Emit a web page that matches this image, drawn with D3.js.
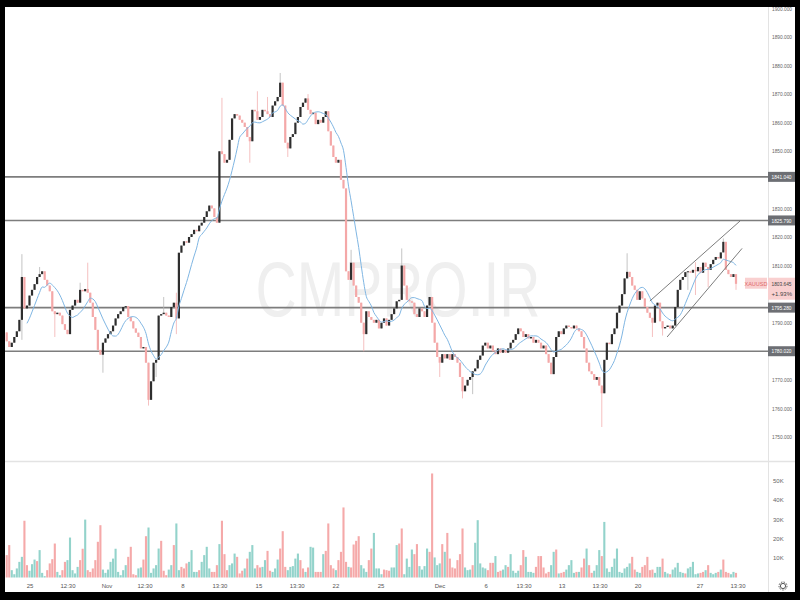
<!DOCTYPE html>
<html><head><meta charset="utf-8">
<script src="https://cdn.jsdelivr.net/npm/d3@7/dist/d3.min.js"></script>
<style>html,body{margin:0;padding:0;background:#000;overflow:hidden}svg{display:block}</style>
</head><body>
<svg id="c" width="800" height="600"></svg>
<script>
// ---------- data ----------
const symbol = "XAUUSD";
const lastPrice = "1803.645";
const changePct = "+1.93%";
const firstOpen = 1786.6;
const closes = [1783.5,1781.5,1783,1785,1787,1791,1806,1795,1796,1799.5,
1801.5,1803.5,1806,1807,1808,1805,1803,1801,1794,1793,
1793.5,1792.5,1789.5,1787.5,1786,1794.5,1796,1798,1797,1801.5,
1801,1801.8,1800.5,1797,1792,1787.5,1780.5,1778.8,1783,1784.5,
1786,1787,1789,1791.5,1793,1794,1795.5,1795.8,1792,1790.5,
1788,1786.5,1785,1781,1781.5,1776,1763,1769.5,1776,1777,
1792.5,1793,1793.5,1792.5,1792,1795.5,1797,1791.5,1814.5,1817,
1818.5,1818,1820,1821,1822.5,1822,1824,1825,1827,1829,
1831,1830,1827,1825,1850,1849,1846,1847,1854,1861.5,
1863,1862.5,1861,1860,1858.5,1855,1853.5,1864.5,1864,1861,
1862,1864.5,1864,1863,1862,1866,1867.5,1869,1874,1866,
1853,1851,1855,1856,1860,1862,1865.5,1867,1868.5,1864.5,
1863,1863.5,1859.5,1861,1860,1862,1864,1857,1852,1848,
1846,1847,1840,1837,1808,1805,1811,1803,1799,1797,
1790,1786,1794,1792,1791,1790,1791,1788,1790,1791.5,
1789,1791,1793,1795,1797.5,1798,1810,1803,1798,1797.5,
1797,1793,1792,1795,1794,1792,1796,1799,1790,1783,
1778,1776,1779,1777.5,1779,1777,1779,1778,1776,1771,
1766,1768,1770,1771,1773,1774,1777,1778.5,1782,1783,
1781,1782,1780,1779,1781,1779.5,1780.5,1779.5,1781,1783,
1784,1786,1788,1787,1785,1786,1784.5,1785,1783,1784,
1783,1781,1782,1779,1776,1772,1778,1785,1787,1786,
1788,1789,1788.5,1788,1789,1788,1787,1785,1781,1776,
1773,1772,1770,1771,1768,1765.3,1777,1783,1782.5,1786,
1788,1793.5,1796,1800,1805.5,1807.8,1806,1803,1801.5,1798,
1801,1798.5,1795.5,1793.5,1791.7,1790,1796,1797,1790.5,1788,
1788.5,1789,1788,1789,1795.5,1801.5,1805,1806,1807.7,1808,
1807.5,1808.5,1808,1809.5,1807.5,1811,1809.5,1808.5,1810.5,1812,
1813,1812.5,1814.6,1818.3,1808.5,1807,1806,1807,1803.6];
// notable wick extremes: [candle index, price]
const wickHighs = [[6,1814],[13,1809.5],[29,1804],[32,1811],[62,1799],[67,1800.5],[85,1868.7],[99,1871],[103,1869],[108,1877.4],[119,1870],[136,1815.5],[156,1816],[245,1814.3],[272,1811.2],[283,1819.5]];
const wickLows = [[6,1784],[19,1785],[38,1772.5],[56,1761],[59,1771],[67,1786],[96,1846],[111,1848],[141,1780],[171,1771],[180,1763.5],[184,1765],[235,1753.5],[255,1785],[259,1785.5],[269,1801.5],[272,1799.7],[277,1802.5],[288,1801.5]];
// volume in thousands
const volumes = [11.6,16.8,3.8,1.7,4.7,8.1,10.7,29.4,6.4,3.5,
6.9,9.3,8.5,14.2,2.4,0.7,3.8,7.3,9.5,17.6,
2.9,1.2,3.8,8.1,9.0,20.7,3.8,2.1,5.5,9.0,
14.9,30.0,3.8,2.9,4.7,9.0,18.5,27.1,4.1,2.4,
4.1,8.1,9.8,14.9,2.9,1.2,3.8,6.4,10.7,15.9,
1.7,1.2,4.7,5.2,9.3,21.4,25.9,2.4,4.7,6.4,
15.0,19.0,3.5,1.2,4.1,6.4,16.8,28.0,3.8,5.5,
4.7,7.3,8.1,14.2,2.9,2.9,
3.8,8.1,11.6,15.9,4.7,2.9,2.9,6.4,17.3,29.4,
12.1,3.8,6.4,7.3,12.4,10.7,2.1,3.5,4.7,9.8,
13.3,16.8,4.7,6.4,5.2,5.5,9.0,13.8,3.5,2.9,
4.7,9.3,15.0,24.0,5.5,3.8,5.5,5.9,9.8,12.4,
9.0,4.7,2.9,5.2,15.9,15.5,2.9,2.9,2.9,12.1,
13.8,28.0,6.4,4.7,3.8,9.0,13.3,36.3,8.1,5.5,
5.2,17.1,19.0,21.4,6.4,4.7,2.9,9.0,15.0,23.1,
4.7,4.7,1.7,4.1,3.8,3.5,5.2,5.2,16.8,
17.6,25.4,1.7,9.8,5.5,14.5,12.1,17.3,5.9,4.1,
5.9,15.0,13.3,53.9,10.4,6.4,7.3,17.3,13.3,23.1,
9.8,5.2,4.7,9.0,12.1,25.4,5.2,3.8,4.1,6.4,
18.0,29.7,7.3,5.2,4.7,3.8,7.6,7.6,11.1,2.9,
3.5,4.1,6.4,5.5,12.1,3.5,2.4,3.5,6.4,14.2,
10.7,2.9,2.9,2.4,5.5,11.1,11.1,5.2,2.1,2.9,
6.4,13.3,14.5,2.1,2.4,2.9,4.1,6.4,9.0,2.4,
2.9,2.9,5.2,9.8,15.0,6.4,2.4,3.5,6.4,14.2,
11.1,28.8,4.7,2.9,5.5,9.8,15.0,2.9,2.4,4.7,
5.5,7.3,10.7,4.1,2.9,2.4,5.5,6.4,10.7,3.8,
4.1,2.4,5.5,5.5,9.8,2.9,2.1,1.7,4.1,5.2,
7.6,2.9,2.4,2.1,4.7,5.5,8.1,1.7,2.1,2.4,
2.9,3.8,6.4,2.4,1.7,2.4,2.9,4.1,9.3,2.9,
2.4,1.7,2.9,2.4];
// volume bar direction: p = down (pink), t = up (teal)
const volumeDirs = ("pptttttppt"+"ttptttpppp"+"ttpptttttp"+"ptpppppptt"+"ttttttttpp"+"ppttpptttt"+"tpppttpttp"+"pptttt"+
"pttttppptp"+"pptttppptp"+"tttppttppt"+"ttpppttttt"+"pptpttpppt"+"pppptppppt"+"pppptttppt"+"tttpppttt"+
"ppttttpptt"+"ttpptttptp"+"pppppptttp"+"tttttppptp"+"pttpttttpp"+"ttttpppppp"+"ttptpptttt"+"ptpptppttt"+
"pttttttttt"+"ttppttpppp"+"ptttpttptt"+"tttptttttp"+"ptptttptpp"+"pttp").split("");
const levels = [1841.04, 1825.79, 1795.28, 1780.02];
const levelLabels = ["1841.040","1825.790","1795.280","1780.020"];
const priceTicks = [1900,1890,1880,1870,1860,1850,1830,1820,1810,1790,1770,1760,1750];
const volumeTicks = [10,20,30,40,50];
const timeTickIdx = [9.2,24.2,39.6,54.6,69.6,84.2,99.6,114.7,130,147.8,171.1,189.3,204.3,219.3,234.3,249.3,273.8,288.8];
const timeTickLabels = ["25","12:30","Nov","12:30","8","13:30","15","13:30","22","25","Dec","6","13:30","13","13:30","20","27","13:30"];
const channelUpper = [[254,1797.6],[289.6,1825.6]];
const channelLower = [[260.8,1785],[290.4,1816]];
const maPeriod = 9;

// ---------- drawing ----------
const svg = d3.select("#c");
const N = closes.length;
const opens = closes.map((c,i)=> i===0 ? firstOpen : closes[i-1]);
const highs = closes.map((c,i)=> Math.max(c, opens[i]));
const lows = closes.map((c,i)=> Math.min(c, opens[i]));
wickHighs.forEach(([i,v])=>{ highs[i]=Math.max(highs[i],v); });
wickLows.forEach(([i,v])=>{ lows[i]=Math.min(lows[i],v); });

const x = d3.scaleLinear().domain([0, N-1]).range([6.7, 736]);
const y = d3.scaleLinear().domain([1750, 1900]).range([437, 8.4]);
const yv = d3.scaleLinear().domain([0, 50]).range([577.5, 481]);
const font = "'Liberation Sans', Arial, sans-serif";

svg.append("rect").attr("width",800).attr("height",600).attr("fill","#000");
svg.append("rect").attr("x",5).attr("y",7).attr("width",790).attr("height",585).attr("fill","#fff");

svg.append("defs").append("clipPath").attr("id","plot")
  .append("rect").attr("x",5).attr("y",7).attr("width",763).attr("height",454);
svg.select("defs").append("clipPath").attr("id","vplot")
  .append("rect").attr("x",5).attr("y",462).attr("width",763).attr("height",116);

// watermark
svg.append("text").attr("x",398).attr("y",316).attr("text-anchor","middle")
  .attr("font-family",font).attr("font-size",78).attr("fill","#efefef")
  .attr("textLength",285).attr("lengthAdjust","spacingAndGlyphs").text("CMPRO.IR");

// separators
svg.append("line").attr("x1",768.5).attr("x2",768.5).attr("y1",7).attr("y2",592).attr("stroke","#e3e3e3");
svg.append("line").attr("x1",5).attr("x2",795).attr("y1",461.5).attr("y2",461.5).attr("stroke","#e3e3e3").attr("stroke-width",1.5);

const g = svg.append("g").attr("clip-path","url(#plot)");

// level lines
g.selectAll(".lvl").data(levels).join("line")
  .attr("x1",5).attr("x2",768).attr("y1",d=>y(d)).attr("y2",d=>y(d))
  .attr("stroke","#7d7d7d").attr("stroke-width",1.6);

// candles
const bw = 2.2;
const cg = g.append("g");
cg.selectAll(".wick").data(d3.range(N)).join("line")
  .attr("x1",i=>x(i)).attr("x2",i=>x(i)).attr("y1",i=>y(highs[i])).attr("y2",i=>y(lows[i]))
  .attr("stroke",i=> closes[i]>=opens[i] ? "#b5b5b5" : "#f2b0b0").attr("stroke-width",0.8);
cg.selectAll(".body").data(d3.range(N)).join("rect")
  .attr("x",i=>x(i)-bw/2).attr("width",bw)
  .attr("y",i=>y(Math.max(opens[i],closes[i])))
  .attr("height",i=>Math.max(1, Math.abs(y(opens[i])-y(closes[i]))))
  .attr("fill",i=> closes[i]>=opens[i] ? "#2e2e2e" : "#f4a8a8");

// moving average
const ma = closes.map((c,i)=> i<maPeriod-1 ? null : d3.mean(closes.slice(i-maPeriod+1,i+1)));
g.append("path").datum(d3.range(N).filter(i=>ma[i]!==null))
  .attr("fill","none").attr("stroke","#7fb6e3").attr("stroke-width",1)
  .attr("d", d3.line().x(i=>x(i)).y(i=>y(ma[i])).curve(d3.curveMonotoneX));

// channel
[channelUpper, channelLower].forEach(seg=>{
  g.append("line").attr("x1",x(seg[0][0])).attr("y1",y(seg[0][1]))
    .attr("x2",x(seg[1][0])).attr("y2",y(seg[1][1]))
    .attr("stroke","#6e6e6e").attr("stroke-width",0.9);
});

// volume
const vg = svg.append("g").attr("clip-path","url(#vplot)");
vg.selectAll("rect").data(d3.range(N)).join("rect")
  .attr("x",i=>x(i)-1.05).attr("width",2.1)
  .attr("y",i=>yv(volumes[i])).attr("height",i=>yv(0)-yv(volumes[i]))
  .attr("fill",i=> volumeDirs[i]==="t" ? "#93d3cb" : "#f5a9a9");

// price axis labels
svg.selectAll(".pt").data(priceTicks).join("text")
  .attr("x",772).attr("y",d=>y(d)).attr("dy","0.35em")
  .attr("font-family",font).attr("font-size",6).attr("fill","#666")
  .attr("textLength",20).attr("lengthAdjust","spacingAndGlyphs")
  .text(d=>d3.format(".3f")(d));

// level labels
levels.forEach((v,k)=>{
  svg.append("rect").attr("x",768).attr("y",y(v)-5).attr("width",27).attr("height",10).attr("fill","#6d6f74");
  svg.append("text").attr("x",771.5).attr("y",y(v)).attr("dy","0.35em")
    .attr("font-family",font).attr("font-size",6).attr("fill","#fff")
    .attr("textLength",20).attr("lengthAdjust","spacingAndGlyphs").text(levelLabels[k]);
});

// last price labels
const yl = y(+lastPrice);
svg.append("rect").attr("x",745).attr("y",yl-6).attr("width",22).attr("height",11).attr("fill","#f9d0d0");
svg.append("text").attr("x",756).attr("y",yl).attr("dy","0.35em").attr("text-anchor","middle")
  .attr("font-family",font).attr("font-size",5.5).attr("fill","#e06a6a").text(symbol);
svg.append("rect").attr("x",768).attr("y",yl-6).attr("width",27).attr("height",22).attr("fill","#f9d0d0");
svg.append("text").attr("x",771.5).attr("y",yl).attr("dy","0.35em")
  .attr("font-family",font).attr("font-size",6).attr("fill","#444")
  .attr("textLength",20).attr("lengthAdjust","spacingAndGlyphs").text(lastPrice);
svg.append("text").attr("x",771.5).attr("y",yl+10).attr("dy","0.35em")
  .attr("font-family",font).attr("font-size",6).attr("fill","#444").text(changePct);

// volume axis labels
svg.selectAll(".vt").data(volumeTicks).join("text")
  .attr("x",773).attr("y",d=>yv(d)).attr("dy","0.35em")
  .attr("font-family",font).attr("font-size",6).attr("fill","#666").text(d=>d+"K");

// time axis
svg.selectAll(".tt").data(timeTickIdx).join("text")
  .attr("x",d=>x(d)).attr("y",588).attr("text-anchor","middle")
  .attr("font-family",font).attr("font-size",6).attr("fill","#555")
  .text((d,k)=>timeTickLabels[k]);

// settings icon
svg.append("circle").attr("cx",783).attr("cy",586).attr("r",2.6).attr("fill","none").attr("stroke","#555").attr("stroke-width",1);
svg.append("circle").attr("cx",783).attr("cy",586).attr("r",4).attr("fill","none").attr("stroke","#555").attr("stroke-width",1).attr("stroke-dasharray","1.5,1.2");
</script>
</body></html>
